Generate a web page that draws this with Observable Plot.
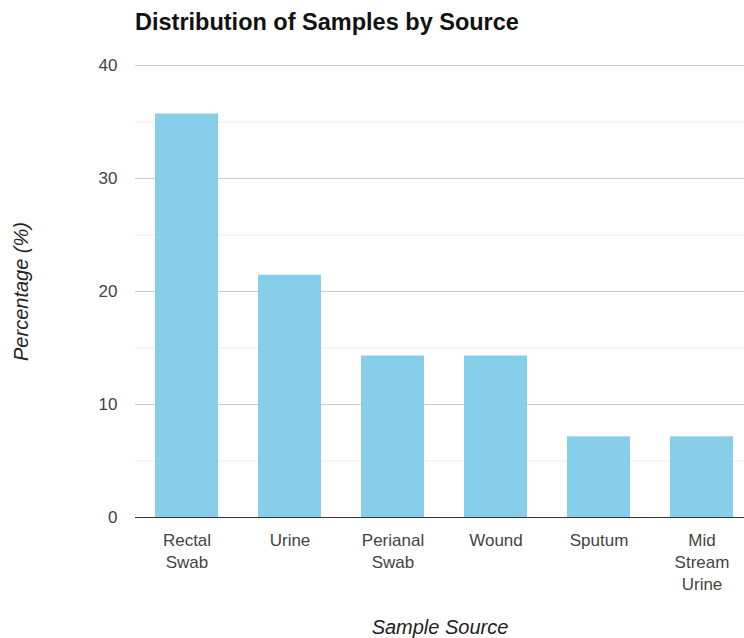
<!DOCTYPE html>
<html>
<head>
<meta charset="utf-8">
<script src="https://cdn.jsdelivr.net/npm/d3@7"></script>
<script src="https://cdn.jsdelivr.net/npm/@observablehq/plot@0.6"></script>
<style>
  body { margin: 0; background: #fff; font-family: "Liberation Sans", Arial, sans-serif; }
  #title { height: 45px; padding-left: 135px; font-weight: bold; font-size: 23.5px; line-height: 45px; color: #111; }
  #chart svg g[aria-label="x-axis label"],
  #chart svg g[aria-label="y-axis label"] { font-style: italic; font-size: 20px; fill: #222; }
</style>
</head>
<body>
<div id="title">Distribution of Samples by Source</div>
<div id="chart"></div>
<script>
// Sample sources and their share of all samples (%)
const sources = ["Rectal Swab", "Urine", "Perianal Swab", "Wound", "Sputum", "Mid Stream Urine"];
const tickLabels = ["Rectal\nSwab", "Urine", "Perianal\nSwab", "Wound", "Sputum", "Mid\nStream\nUrine"];
const percentages = [35.71, 21.43, 14.29, 14.29, 7.14, 7.14];
const majorTicks = [0, 10, 20, 30, 40];
const minorTicks = [5, 15, 25, 35];

const data = sources.map((source, i) => ({source, pct: percentages[i]}));

const chart = Plot.plot({
  width: 744,
  height: 593,
  marginLeft: 135,
  marginRight: 0,
  marginTop: 20,
  marginBottom: 121,
  style: {fontFamily: "'Liberation Sans', Arial, sans-serif", fontSize: "17px", color: "#444", overflow: "hidden", background: "#fff"},
  // bands continue past the right edge, so the last bar sits close to it
  x: {domain: sources, range: [134, 754], paddingInner: 0.387, paddingOuter: 0.1935},
  y: {domain: [0, 40]},
  marks: [
    Plot.ruleY(minorTicks, {stroke: "#ececec"}),
    Plot.ruleY(majorTicks.filter(t => t > 0), {stroke: "#cccccc"}),
    Plot.barY(data, {x: "source", y: "pct", fill: "#87ceeb"}),
    Plot.ruleY([0], {stroke: "#333"}),
    Plot.axisY(majorTicks, {
      tickSize: 0, tickPadding: 18, fill: "#444",
      label: "Percentage (%)", labelAnchor: "center", labelArrow: "none", labelOffset: 122
    }),
    Plot.axisX({
      tickSize: 0, tickPadding: 13, fill: "#444", lineHeight: 1.3,
      tickFormat: d => tickLabels[sources.indexOf(d)],
      label: "Sample Source", labelAnchor: "center", labelArrow: "none", labelOffset: 116
    })
  ]
});

document.getElementById("chart").append(chart);
</script>
</body>
</html>
